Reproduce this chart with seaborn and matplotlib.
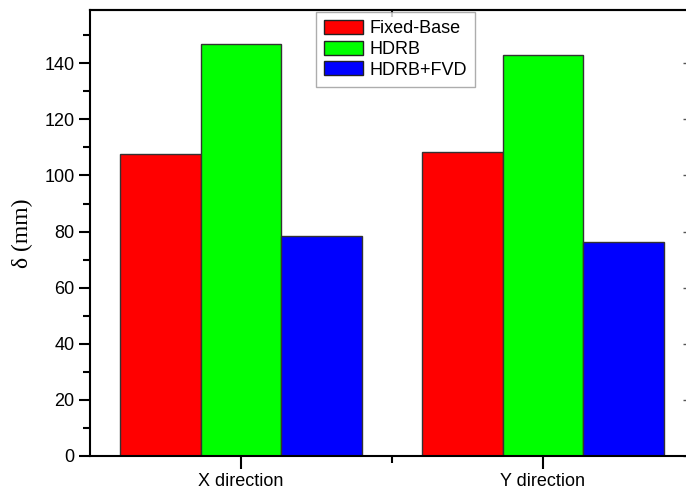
import matplotlib
matplotlib.use("Agg")
import matplotlib.pyplot as plt
import seaborn as sns
import pandas as pd
from matplotlib.ticker import MultipleLocator, FixedLocator, NullFormatter

# Peak displacement per direction and structural system
directions = ["X direction", "Y direction"]
systems = ["Fixed-Base", "HDRB", "HDRB+FVD"]
fixed_base = [107.6, 108.2]
hdrb = [147.0, 143.0]
hdrb_fvd = [78.6, 76.4]
colors = ["#ff0000", "#00ff00", "#0000ff"]

df = pd.DataFrame({
    "direction": directions * 3,
    "system": [s for s in systems for _ in directions],
    "delta": fixed_base + hdrb + hdrb_fvd,
})

sns.set_style("white")
plt.rcParams["font.family"] = ["Liberation Sans", "DejaVu Sans"]
plt.rcParams["text.color"] = "black"
plt.rcParams["xtick.color"] = "black"
plt.rcParams["ytick.color"] = "black"
plt.rcParams["axes.labelcolor"] = "black"

fig = plt.figure(figsize=(6.86, 4.91), dpi=100)
W, H = 686, 491
ax = fig.add_axes([90 / W, 35 / H, 604 / W, 446 / H])

sns.barplot(data=df, x="direction", y="delta", hue="system",
            hue_order=systems, order=directions, palette=colors,
            width=0.8, edgecolor="#333333", linewidth=1.0,
            saturation=1, ax=ax)

ax.set_xlim(-0.5, 1.5)
ax.set_ylim(0, 159)
ax.yaxis.set_major_locator(MultipleLocator(20))
ax.yaxis.set_minor_locator(MultipleLocator(10))
ax.xaxis.set_minor_locator(FixedLocator([0.5]))
ax.xaxis.set_minor_formatter(NullFormatter())

for s in ax.spines.values():
    s.set_visible(True)
    s.set_linewidth(1.5)
    s.set_color("black")

ax.tick_params(axis="y", which="major", direction="out", length=8, width=1.5,
               labelsize=13, left=True, pad=3)
ax.tick_params(axis="y", which="minor", direction="out", length=5, width=1.5,
               left=True)
ax.tick_params(axis="x", which="major", direction="out", length=9, width=1.5,
               labelsize=13, bottom=True, pad=3)
ax.tick_params(axis="x", which="minor", direction="out", length=5, width=1.5,
               bottom=True)

ax.set_xlabel("")
ax.set_ylabel("δ (mm)", fontsize=17, family=["Liberation Serif", "DejaVu Serif"],
              labelpad=8)

# Inward ticks on the opposite spines
sec_y = ax.secondary_yaxis("right")
sec_y.yaxis.set_major_locator(MultipleLocator(20))
sec_y.yaxis.set_minor_locator(MultipleLocator(10))
sec_y.tick_params(which="both", direction="in", labelright=False, width=1.0,
                  color="#555555")
sec_y.tick_params(which="major", length=8)
sec_y.tick_params(which="minor", length=5)
sec_y.spines["right"].set_linewidth(1.5)

sec_x = ax.secondary_xaxis("top")
sec_x.xaxis.set_major_locator(FixedLocator([0.5]))
sec_x.tick_params(direction="in", labeltop=False, length=5, width=1.5)
sec_x.spines["top"].set_linewidth(1.5)

leg = ax.legend(loc="upper left", bbox_to_anchor=(0.374, 0.996), borderaxespad=0,
                fontsize=13, frameon=True, fancybox=False, edgecolor="#999999",
                handlelength=2.15, handleheight=0.8, handletextpad=0.35,
                labelspacing=0.2, borderpad=0.45)
leg.get_frame().set_linewidth(1.0)
for h in leg.legend_handles:
    h.set_edgecolor("#222222")
    h.set_linewidth(1.0)

fig.savefig("out.png", dpi=100)
